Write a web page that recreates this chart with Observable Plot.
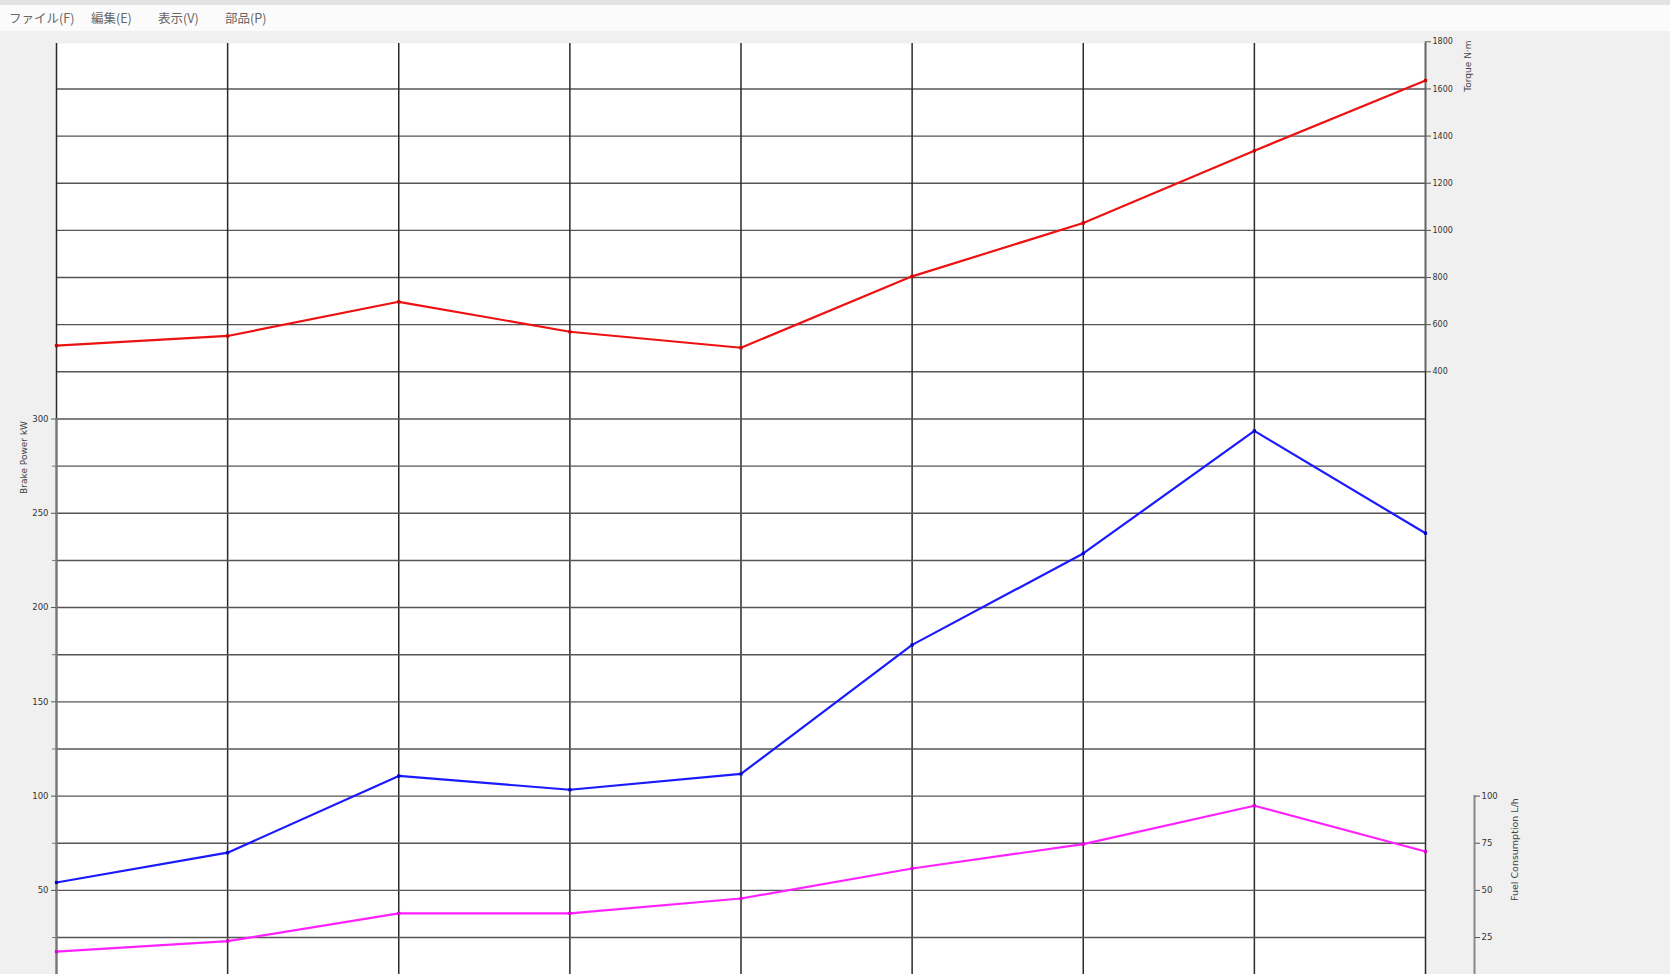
<!DOCTYPE html>
<html><head><meta charset="utf-8">
<script src="https://cdn.jsdelivr.net/npm/d3@7"></script>
<script src="https://cdn.jsdelivr.net/npm/@observablehq/plot@0.6"></script>
<style>
html,body{margin:0;padding:0}
body{background:#f0f0f0;width:1670px;height:974px;overflow:hidden;font-family:"Noto Sans CJK JP","Noto Sans",sans-serif}
#menu{height:31px;background:#fbfbfb;position:relative;border-top:5px solid #e2e2e2;box-sizing:border-box}
#menu span{position:absolute;top:5px;font-size:12.5px;line-height:16px;color:#666}
#chart{position:relative;width:1670px;height:943px}
#chart svg{position:absolute;left:0;top:0;background:transparent !important}
</style></head>
<body>
<div id="menu"><span style="left:9px">ファイル(F)</span><span style="left:91px">編集(E)</span><span style="left:158px">表示(V)</span><span style="left:225px">部品(P)</span></div>
<div id="chart"></div>
<script>
// ---- data ----
const points = [0, 1, 2, 3, 4, 5, 6, 7, 8];
const torque = [511, 552, 697, 570, 502, 805, 1031, 1338, 1636];
const power  = [54.2, 70.0, 110.7, 103.4, 111.8, 180.2, 228.7, 293.7, 239.4];
const fuel   = [17.5, 23.1, 37.8, 37.8, 45.7, 61.6, 74.5, 94.9, 70.6];
const torqueTicks = [400, 600, 800, 1000, 1200, 1400, 1600, 1800];
const torqueGrid  = [400, 600, 800, 1000, 1200, 1400, 1600];
const powerTicks  = [50, 100, 150, 200, 250, 300];
const powerMinor  = [25, 75, 125, 175, 225, 275];
const powerGrid   = [25, 50, 75, 100, 125, 150, 175, 200, 225, 250, 275, 300];
const fuelTicks   = [25, 50, 75, 100];
const torqueTitle = "Torque N·m";
const powerTitle  = "Brake Power kW";
const fuelTitle   = "Fuel Consumption L/h";

const rows = points.map((p, i) => ({x: p, torque: torque[i], power: power[i], fuel: fuel[i]}));

const W = 1670, H = 943;
const xScale = {domain: [0, 8], range: [56, 1425], axis: null};
const font = "DejaVu Sans, sans-serif";
const plain = d => String(d);
const chart = document.getElementById("chart");

// Panel A: white frame, grid, torque (red)
const A = Plot.plot({
  width: W, height: H,
  marginLeft: 56, marginRight: 245, marginTop: 12, marginBottom: 0,
  style: {fontFamily: font, background: "transparent", color: "#333"},
  x: xScale,
  y: {domain: [400, 1800], range: [340.3, 10.3], axis: null},
  marks: [
    Plot.frame({fill: "white", stroke: "none"}),
    Plot.ruleY(torqueGrid, {y: d => d, stroke: "#555", strokeWidth: 1.4}),
    Plot.ruleX(points, {x: d => d, stroke: "#2a2a2a", strokeWidth: 1.5}),
    Plot.ruleX([8], {x: d => d, y1: 400, y2: 1800, stroke: "#666", strokeWidth: 1.5}),
    Plot.axisY({anchor: "right", ticks: torqueTicks, tickFormat: plain, tickSize: 5, tickPadding: 2, fontSize: 8, label: null, stroke: "#555"}),
    Plot.line(rows, {x: "x", y: "torque", stroke: "#ee1111", strokeWidth: 2.2}),
    Plot.dot(rows, {x: "x", y: "torque", r: 1.8, fill: "#cc0000", symbol: "square"}),
    Plot.text([torqueTitle], {frameAnchor: "top-right", dx: 39, dy: -3, rotate: -90, textAnchor: "end", fontSize: 9, fill: "#444"})
  ]
});
chart.appendChild(A);

// Panel B: power (blue), left axis
const B = Plot.plot({
  width: W, height: H,
  marginLeft: 56, marginRight: 245, marginTop: 387.5, marginBottom: 0,
  style: {fontFamily: font, background: "transparent", color: "#333"},
  x: xScale,
  y: {domain: [0, 300], range: [953.2, 387.5], axis: null},
  marks: [
    Plot.ruleY(powerGrid, {y: d => d, x1: 0, x2: 8, stroke: "#555", strokeWidth: 1.4}),
    Plot.ruleX([0], {x: d => d, y1: 0, y2: 300, stroke: "#777", strokeWidth: 2}),
    Plot.axisY({anchor: "left", ticks: powerTicks, tickFormat: plain, tickSize: 5, tickPadding: 3, fontSize: 8.5, label: null, stroke: "#555"}),
    Plot.axisY({anchor: "left", ticks: powerMinor, tickSize: 4, tickFormat: () => "", label: null, stroke: "#777"}),
    Plot.line(rows, {x: "x", y: "power", stroke: "#1a1aff", strokeWidth: 2.2}),
    Plot.dot(rows, {x: "x", y: "power", r: 1.8, fill: "#0000cc", symbol: "square"}),
    Plot.text([powerTitle], {frameAnchor: "top-left", dx: -36, dy: 2, rotate: -90, textAnchor: "end", fontSize: 9, fill: "#444"})
  ]
});
chart.appendChild(B);

// Panel C: fuel (magenta), right axis
const C = Plot.plot({
  width: W, height: H,
  marginLeft: 56, marginRight: 196, marginTop: 764.6, marginBottom: 0,
  style: {fontFamily: font, background: "transparent", color: "#333"},
  x: xScale,
  y: {domain: [0, 100], range: [953.2, 764.6], axis: null},
  marks: [
    Plot.frame({anchor: "right", stroke: "#888", strokeWidth: 2}),
    Plot.axisY({anchor: "right", ticks: fuelTicks, tickFormat: plain, tickSize: 5, tickPadding: 2, fontSize: 8.5, label: null, stroke: "#555"}),
    Plot.line(rows, {x: "x", y: "fuel", stroke: "#ff22ff", strokeWidth: 2.2}),
    Plot.dot(rows, {x: "x", y: "fuel", r: 1.8, fill: "#dd00dd", symbol: "square"}),
    Plot.text([fuelTitle], {frameAnchor: "top-right", dx: 37, dy: 2, rotate: -90, textAnchor: "end", fontSize: 9.5, fill: "#444"})
  ]
});
chart.appendChild(C);
</script>
</body></html>
